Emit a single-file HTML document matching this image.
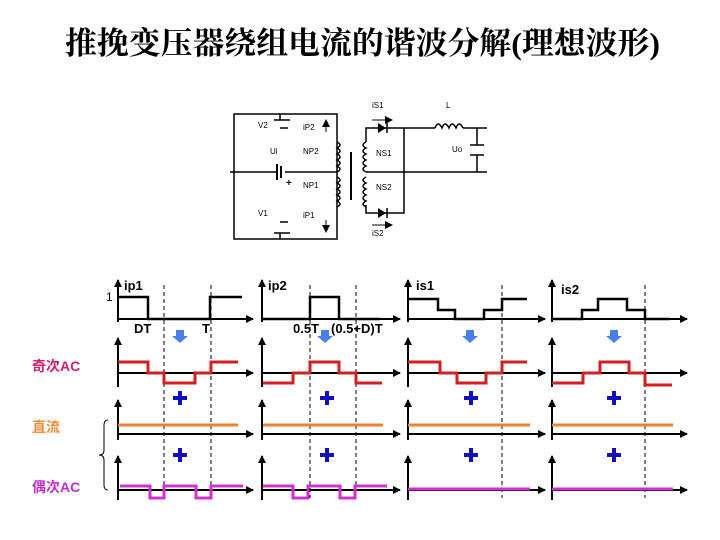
<!DOCTYPE html>
<html><head><meta charset="utf-8"><style>
body{margin:0;background:#fff}
svg{display:block}
text{font-family:"Liberation Sans","Noto Sans CJK SC",sans-serif}
</style></head><body>
<svg width="720" height="540" viewBox="0 0 720 540" xmlns="http://www.w3.org/2000/svg">
<defs>
<marker id="ar" markerWidth="8" markerHeight="8" refX="7" refY="4" orient="auto" markerUnits="userSpaceOnUse"><path d="M0,0 L8,4 L0,8 Z" fill="#000"/></marker>
</defs>
<text x="65" y="54" font-size="31" font-weight="bold" fill="#000" textLength="595" lengthAdjust="spacingAndGlyphs" style="font-family:'Liberation Serif','Noto Serif CJK SC',serif">推挽变压器绕组电流的谐波分解(理想波形)</text>

<!-- circuit -->
<g stroke="#000" stroke-width="1.5" fill="none">
<path d="M234,114 H337 V239 H234 Z"/>
<path d="M230,172 H277 M285,172 H337"/>
<path d="M277,164 V180 M281,166 V178" stroke-width="2"/>
<path d="M280,114 V120 M274,120 H290" />
<path d="M280,239 V233 M274,233 H290"/>
<path d="M280,128 H288 M280,222 H288"/>
<path d="M337,142 q6,3 0,6 q6,3 0,6 q6,3 0,6 q6,3 0,6 q6,3 0,6 M337,177 q6,3 0,6 q6,3 0,6 q6,3 0,6 q6,3 0,6 q6,3 0,6"/>
<path d="M351,152 V200" stroke-width="2"/>
<path d="M366,142 q-6,3 0,6 q-6,3 0,6 q-6,3 0,6 q-6,3 0,6 q-6,3 0,6 M366,177 q-6,3 0,6 q-6,3 0,6 q-6,3 0,6 q-6,3 0,6 q-6,3 0,6"/>
<path d="M366,142 V128 H404 M366,205 V213 H404 V128 M366,172 H487 M404,128 H435 M463,128 H487 M477,128 V145 M477,155 V172"/>
<path d="M470,145 H484 M470,155 H484"/>
<path d="M435,128 q3,-8 7,0 q3,-8 7,0 q3,-8 7,0 q3,-8 7,0"/>
</g>
<g stroke="#000" stroke-width="1" fill="none" marker-end="url(#ar)">
<path d="M372,120 H392"/><path d="M372,225 H392"/>
<path d="M326,132 V120"/><path d="M326,220 V232"/>
</g>
<path d="M378,123 L386,128 L378,133 Z M378,208 L386,213 L378,218 Z" fill="#000"/>
<path d="M387,123 V133 M387,208 V218" stroke="#000" stroke-width="1.5"/>
<g font-size="8" fill="#000" font-family="Liberation Serif,serif">
<text x="258" y="128">V2</text><text x="303" y="130">iP2</text><text x="270" y="154">Ui</text><text x="303" y="154">NP2</text>
<text x="303" y="188">NP1</text><text x="258" y="216">V1</text><text x="303" y="218">iP1</text>
<text x="372" y="108">iS1</text><text x="446" y="108">L</text><text x="376" y="156">NS1</text><text x="376" y="190">NS2</text>
<text x="452" y="152">Uo</text><text x="372" y="236">iS2</text>
</g>
<text x="286" y="186" font-size="10" font-weight="bold">+</text>

<!-- labels -->
<g font-size="14" font-weight="bold">
<text x="32" y="371" fill="#d0206a">奇次AC</text>
<text x="32" y="432" fill="#f0903a">直流</text>
<text x="32" y="492" fill="#c030d0">偶次AC</text>
</g>
<path d="M108,420 q-4,0 -4,5 v25 q0,5 -5,5 q5,0 5,5 v25 q0,5 4,5" stroke="#000" fill="none" stroke-width="1"/>

<!-- dashed -->
<g stroke="#000" stroke-dasharray="4,3" stroke-width="1">
<path d="M164,285 V498 M211,285 V498 M310,285 V498 M356,285 V498 M502,285 V498 M645,285 V498"/>
</g>

<!-- axes -->
<g stroke="#000" stroke-width="2" fill="none" marker-end="url(#ar)">
<path d="M118,322 V280"/><path d="M118,319 H253"/><path d="M262,322 V280"/><path d="M262,319 H400"/><path d="M408,322 V280"/><path d="M408,319 H545"/><path d="M552,322 V280"/><path d="M552,319 H687"/>
<path d="M118,387 V338"/><path d="M118,373 H253"/><path d="M262,387 V338"/><path d="M262,373 H400"/><path d="M408,387 V338"/><path d="M408,373 H545"/><path d="M552,387 V338"/><path d="M552,373 H687"/>
<path d="M118,440 V400"/><path d="M118,434 H253"/><path d="M262,440 V400"/><path d="M262,434 H400"/><path d="M408,440 V400"/><path d="M408,434 H545"/><path d="M552,440 V400"/><path d="M552,434 H687"/>
<path d="M118,500 V456"/><path d="M118,490 H253"/><path d="M262,500 V456"/><path d="M262,490 H400"/><path d="M408,500 V456"/><path d="M408,490 H545"/><path d="M552,500 V456"/><path d="M552,490 H687"/>
</g>
<g stroke="#000" stroke-width="2.5" fill="none">
<path d="M118,297 H148 V319 H210 V297 H242"/>
<path d="M262,319 H310 V297 H339 V319 H380"/>
<path d="M408,299 H438 V310 H455 V319 H484 V310 H502 V299 H527"/>
<path d="M552,319 H582 V310 H598 V299 H627 V310 H645 V319 H670"/>
</g>
<g stroke="#d02020" stroke-width="3" fill="none">
<path d="M118,362 H148 V373 H164 V383 H195 V373 H211 V362 H238"/>
<path d="M263,383 H293 V373 H310 V362 H339 V373 H356 V383 H382"/>
<path d="M408,362 H440 V373 H457 V383 H486 V373 H502 V362 H527"/>
<path d="M552,383 H583 V373 H600 V362 H629 V373 H645 V385 H672"/>
</g>
<g stroke="#f08030" stroke-width="3"><path d="M118,425 H238 M263,425 H383 M408,425 H530 M552,425 H673"/></g>
<g stroke="#d030d0" stroke-width="3" fill="none">
<path d="M120,486 H150 V498 H164 V486 H196 V498 H211 V486 H243"/>
<path d="M263,486 H293 V498 H308 V486 H340 V498 H355 V486 H387"/>
<path d="M408,489 H530 M552,489 H673"/>
</g>
<g fill="#1010c0">
<rect x="173" y="396" width="14" height="4"/><rect x="178" y="391" width="4" height="14"/>
<rect x="173" y="453" width="14" height="4"/><rect x="178" y="448" width="4" height="14"/>
<rect x="320" y="396" width="14" height="4"/><rect x="325" y="391" width="4" height="14"/>
<rect x="320" y="453" width="14" height="4"/><rect x="325" y="448" width="4" height="14"/>
<rect x="464" y="396" width="14" height="4"/><rect x="469" y="391" width="4" height="14"/>
<rect x="464" y="453" width="14" height="4"/><rect x="469" y="448" width="4" height="14"/>
<rect x="607" y="396" width="14" height="4"/><rect x="612" y="391" width="4" height="14"/>
<rect x="607" y="453" width="14" height="4"/><rect x="612" y="448" width="4" height="14"/>
</g>
<g fill="#4a7fe8">
<path d="M176,330 h8 v6 h4 l-8,7 l-8,-7 h4 Z"/>
<path d="M321,330 h8 v6 h4 l-8,7 l-8,-7 h4 Z"/>
<path d="M466,330 h8 v6 h4 l-8,7 l-8,-7 h4 Z"/>
<path d="M610,330 h8 v6 h4 l-8,7 l-8,-7 h4 Z"/>
</g>
<g font-size="13" font-weight="bold" fill="#000">
<text x="124" y="290">ip1</text><text x="268" y="290">ip2</text><text x="416" y="290">is1</text><text x="561" y="294">is2</text>
<text x="134" y="333">DT</text><text x="202" y="333">T</text><text x="293" y="333">0.5T</text><text x="331" y="333">(0.5+D)T</text>
</g>
<text x="106" y="301" font-size="12">1</text>
</svg>
</body></html>
